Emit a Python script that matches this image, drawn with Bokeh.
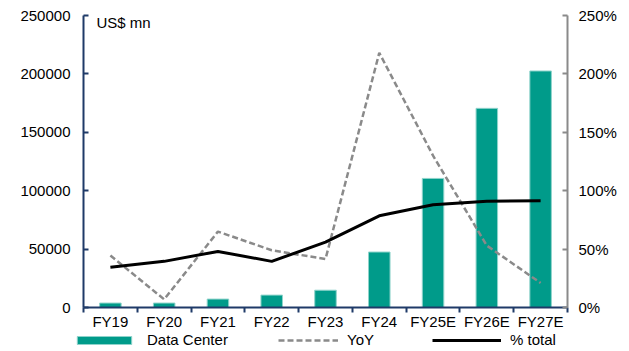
from bokeh.plotting import figure
from bokeh.layouts import column, row
from bokeh.models import (Range1d, LinearAxis, FixedTicker, NumeralTickFormatter,
                          PrintfTickFormatter, Legend, LegendItem, Label, ColumnDataSource)
from bokeh.embed import file_html
from bokeh.resources import INLINE

# Fiscal years
categories = ["FY19", "FY20", "FY21", "FY22", "FY23", "FY24", "FY25E", "FY26E", "FY27E"]
# Data Center revenue, US$ mn
data_center = [3800, 3800, 7200, 10600, 14800, 47500, 110500, 170500, 202500]
# Year-on-year growth, %
yoy = [44.5, 7, 65, 49, 41.5, 218, 130, 53, 21]
# Data Center share of total revenue, %
pct_total = [34.5, 39.5, 48, 39.5, 56, 78.5, 88, 91, 91.5]

left_ticks = [0, 50000, 100000, 150000, 200000, 250000]
right_ticks = [0, 50, 100, 150, 200, 250]

FONT = "Liberation Sans"
TEAL = "#009B8A"
BAR_EDGE = "#8FD3CB"
NAVY = "#1F3A68"
GREY = "#8A8A8A"

BAR_STYLE = dict(fill_color=TEAL, line_color=BAR_EDGE, line_width=1)
YOY_STYLE = dict(line_color=GREY, line_width=2.5, line_dash="6 3")
TOT_STYLE = dict(line_color="black", line_width=3)

# one slot per year, centred on half-integers
xpos = [i + 0.5 for i in range(len(categories))]
src = ColumnDataSource(dict(x=xpos, dc=data_center, yoy=yoy, pct=pct_total))

p = figure(width=629, height=332, output_backend="svg", toolbar_location=None,
           x_range=Range1d(0, len(categories)), y_range=Range1d(0, 250000),
           min_border_left=83, min_border_right=62, min_border_top=15, min_border_bottom=23)
p.outline_line_color = None
p.xgrid.visible = False
p.ygrid.visible = False
p.extra_y_ranges = {"pct": Range1d(0, 250)}

p.vbar(x="x", top="dc", width=0.4, source=src, **BAR_STYLE)
p.line(x="x", y="yoy", source=src, y_range_name="pct", **YOY_STYLE)
p.line(x="x", y="pct", source=src, y_range_name="pct", **TOT_STYLE)

# x axis: labels at slot centres, ticks at slot boundaries
xa = p.xaxis[0]
xa.ticker = FixedTicker(ticks=xpos, minor_ticks=list(range(len(categories) + 1)))
xa.major_label_overrides = {x: c for x, c in zip(xpos, categories)}
xa.major_tick_in = 0
xa.major_tick_out = 0
xa.minor_tick_in = 0
xa.minor_tick_out = 5
xa.minor_tick_line_color = NAVY
xa.minor_tick_line_width = 2
xa.axis_line_color = NAVY
xa.axis_line_width = 2
xa.major_label_standoff = 0
xa.major_label_text_font = FONT
xa.major_label_text_font_size = "15px"
xa.major_label_text_color = "black"

ya = p.yaxis[0]
ya.ticker = FixedTicker(ticks=left_ticks)
ya.formatter = NumeralTickFormatter(format="0")
ya.axis_line_color = NAVY
ya.axis_line_width = 2
ya.major_tick_in = 5
ya.major_tick_out = 0
ya.major_tick_line_color = NAVY
ya.major_tick_line_width = 2
ya.minor_tick_line_color = None
ya.major_label_standoff = 13
ya.major_label_text_font = FONT
ya.major_label_text_font_size = "15px"
ya.major_label_text_color = "black"

ra = LinearAxis(y_range_name="pct", ticker=FixedTicker(ticks=right_ticks),
                formatter=PrintfTickFormatter(format="%d%%"))
ra.axis_line_color = GREY
ra.axis_line_width = 2
ra.major_tick_in = 5
ra.major_tick_out = 0
ra.major_tick_line_color = GREY
ra.major_tick_line_width = 2
ra.minor_tick_line_color = None
ra.major_label_standoff = 11
ra.major_label_text_font = FONT
ra.major_label_text_font_size = "15px"
ra.major_label_text_color = "black"
p.add_layout(ra, "right")

p.add_layout(Label(x=13, y=285, x_units="screen", y_units="screen", text="US$ mn",
                   text_font=FONT, text_font_size="15px", text_color="black",
                   text_baseline="middle"))

# legend strip underneath the chart; its renderers sit outside the visible range
lg = figure(width=629, height=19, output_backend="svg", toolbar_location=None,
            x_axis_location=None, y_axis_location=None, min_border=0,
            x_range=Range1d(0, 1), y_range=Range1d(0, 1))
lg.outline_line_color = None
lg.xgrid.visible = False
lg.ygrid.visible = False
lg_bar = lg.vbar(x=[-5], top=[-5], width=0.4, **BAR_STYLE)
lg_yoy = lg.line(x=[-5, -4], y=[-5, -5], **YOY_STYLE)
lg_tot = lg.line(x=[-5, -4], y=[-5, -5], **TOT_STYLE)


def legend_entry(text, renderer, x, gw):
    entry = Legend(items=[LegendItem(label=text, renderers=[renderer])],
                   location=(x, 3), orientation="horizontal",
                   glyph_width=gw, glyph_height=10, label_standoff=9,
                   padding=0, margin=0, spacing=0, border_line_color=None,
                   background_fill_alpha=0, label_text_font=FONT,
                   label_text_font_size="15px", label_text_color="black",
                   label_height=14)
    lg.add_layout(entry, "center")


legend_entry("Data Center", lg_bar, 70, 68)
legend_entry("YoY", lg_yoy, 278, 60)
legend_entry("% total", lg_tot, 432, 69)

open("out.html", "w").write(file_html(column(p, row(lg), spacing=0), INLINE))
